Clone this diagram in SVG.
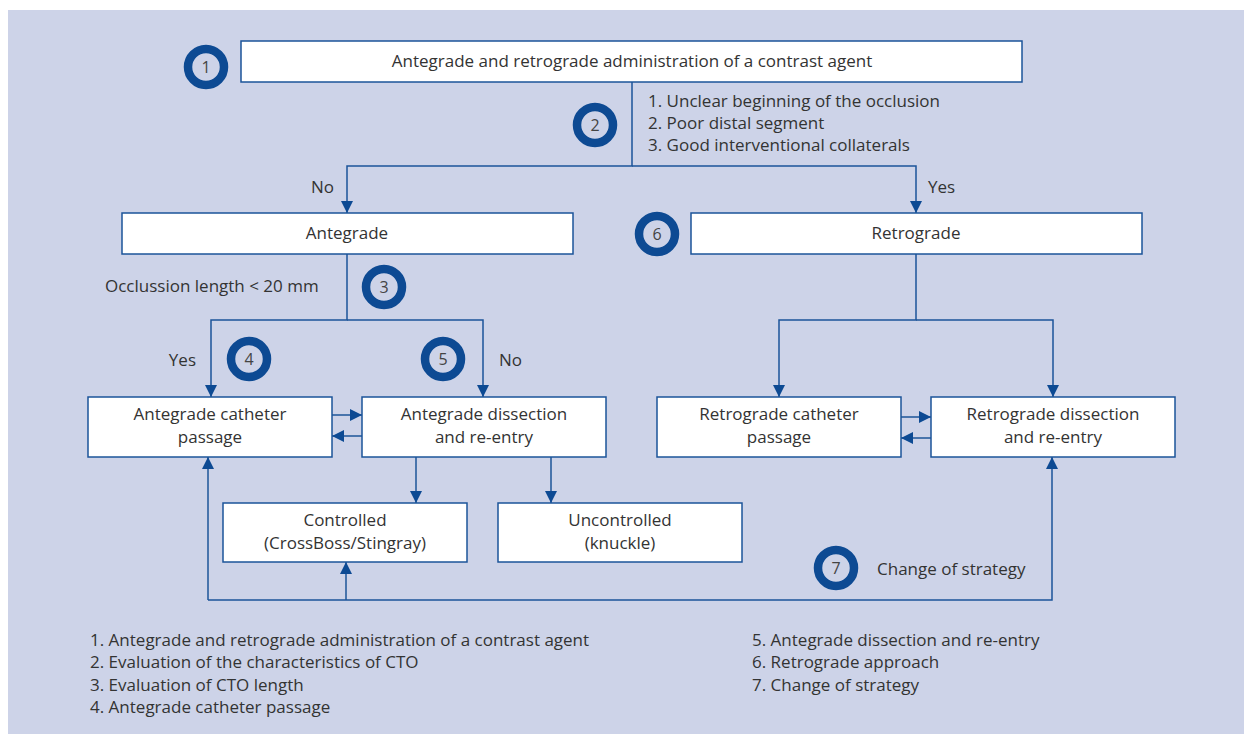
<svg xmlns="http://www.w3.org/2000/svg" width="1244" height="734" viewBox="0 0 1244 734">
<style>
text{font-family:"Open Sans","Noto Sans","Liberation Sans",sans-serif;font-size:17px;fill:#333333}
.c{text-anchor:middle}
.box{fill:#ffffff;stroke:#1b5499;stroke-width:1.5}
.ring{fill:none;stroke:#0d4a93;stroke-width:8.5}
.ln{fill:none;stroke:#1b5499;stroke-width:1.5}
.num{font-size:16px;fill:#444444;text-anchor:middle}
</style>
<defs>
<marker id="ah" viewBox="0 0 12 12" refX="12" refY="6" markerWidth="12" markerHeight="12" markerUnits="userSpaceOnUse" orient="auto">
<path d="M0,0 L12,6 L0,12 z" fill="#0d4a93"/>
</marker>
</defs>
<rect x="8" y="10" width="1236" height="724" fill="#cdd3e8"/>

<g id="connectors">
<path class="ln" d="M632,82 V166 H347 V213" marker-end="url(#ah)"/>
<path class="ln" d="M632,166 H916 V213" marker-end="url(#ah)"/>
<path class="ln" d="M347,254 V320 H211 V397" marker-end="url(#ah)"/>
<path class="ln" d="M347,320 H483 V397" marker-end="url(#ah)"/>
<path class="ln" d="M916,254 V320 H779 V397" marker-end="url(#ah)"/>
<path class="ln" d="M916,320 H1053 V397" marker-end="url(#ah)"/>
<path class="ln" d="M332,415 H362" marker-end="url(#ah)"/>
<path class="ln" d="M362,436 H332" marker-end="url(#ah)"/>
<path class="ln" d="M901,417 H931" marker-end="url(#ah)"/>
<path class="ln" d="M931,438 H901" marker-end="url(#ah)"/>
<path class="ln" d="M416,457 V503" marker-end="url(#ah)"/>
<path class="ln" d="M551,457 V503" marker-end="url(#ah)"/>
<path class="ln" d="M346,600 V562" marker-end="url(#ah)"/>
<path class="ln" d="M208,600 V457" marker-end="url(#ah)"/>
<path class="ln" d="M208,600 H1052 V457" marker-end="url(#ah)"/>
<text x="334" y="193" text-anchor="end">No</text>
<text x="928" y="193">Yes</text>
<text x="105" y="292">Occlussion length &lt; 20 mm</text>
<text x="196" y="366" text-anchor="end">Yes</text>
<text x="499" y="366">No</text>
<text x="648" y="107">1. Unclear beginning of the occlusion</text>
<text x="648" y="129">2. Poor distal segment</text>
<text x="648" y="151">3. Good interventional collaterals</text>
<text x="877" y="575">Change of strategy</text>
</g>

<g id="node1">
<rect class="box" x="241" y="41" width="781" height="41"/>
<text class="c" x="632" y="67">Antegrade and retrograde administration of a contrast agent</text>
</g>
<g id="node-antegrade">
<rect class="box" x="122" y="213" width="451" height="41"/>
<text class="c" x="347" y="239">Antegrade</text>
</g>
<g id="node-retrograde">
<rect class="box" x="691" y="213" width="451" height="41"/>
<text class="c" x="916" y="239">Retrograde</text>
</g>
<g id="node-ant-cath">
<rect class="box" x="88" y="397" width="244" height="60"/>
<text class="c" x="210" y="420">Antegrade catheter</text>
<text class="c" x="210" y="443">passage</text>
</g>
<g id="node-ant-diss">
<rect class="box" x="362" y="397" width="244" height="60"/>
<text class="c" x="484" y="420">Antegrade dissection</text>
<text class="c" x="484" y="443">and re-entry</text>
</g>
<g id="node-ret-cath">
<rect class="box" x="657" y="397" width="244" height="60"/>
<text class="c" x="779" y="420">Retrograde catheter</text>
<text class="c" x="779" y="443">passage</text>
</g>
<g id="node-ret-diss">
<rect class="box" x="931" y="397" width="244" height="60"/>
<text class="c" x="1053" y="420">Retrograde dissection</text>
<text class="c" x="1053" y="443">and re-entry</text>
</g>
<g id="node-controlled">
<rect class="box" x="223" y="503" width="244" height="59"/>
<text class="c" x="345" y="526">Controlled</text>
<text class="c" x="345" y="549">(CrossBoss/Stingray)</text>
</g>
<g id="node-uncontrolled">
<rect class="box" x="498" y="503" width="244" height="59"/>
<text class="c" x="620" y="526">Uncontrolled</text>
<text class="c" x="620" y="549">(knuckle)</text>
</g>

<g id="badge1"><circle class="ring" cx="206" cy="67" r="18"/><text class="num" x="206" y="73">1</text></g>
<g id="badge2"><circle class="ring" cx="595" cy="125" r="18"/><text class="num" x="595" y="131">2</text></g>
<g id="badge3"><circle class="ring" cx="384" cy="287" r="18"/><text class="num" x="384" y="293">3</text></g>
<g id="badge4"><circle class="ring" cx="249" cy="359" r="18"/><text class="num" x="249" y="365">4</text></g>
<g id="badge5"><circle class="ring" cx="443" cy="359" r="18"/><text class="num" x="443" y="365">5</text></g>
<g id="badge6"><circle class="ring" cx="657" cy="234" r="18"/><text class="num" x="657" y="240">6</text></g>
<g id="badge7"><circle class="ring" cx="836" cy="568" r="18"/><text class="num" x="836" y="574">7</text></g>

<g id="legend">
<text x="90" y="646">1. Antegrade and retrograde administration of a contrast agent</text>
<text x="90" y="668">2. Evaluation of the characteristics of CTO</text>
<text x="90" y="691">3. Evaluation of CTO length</text>
<text x="90" y="713">4. Antegrade catheter passage</text>
<text x="752" y="646">5. Antegrade dissection and re-entry</text>
<text x="752" y="668">6. Retrograde approach</text>
<text x="752" y="691">7. Change of strategy</text>
</g>
</svg>
